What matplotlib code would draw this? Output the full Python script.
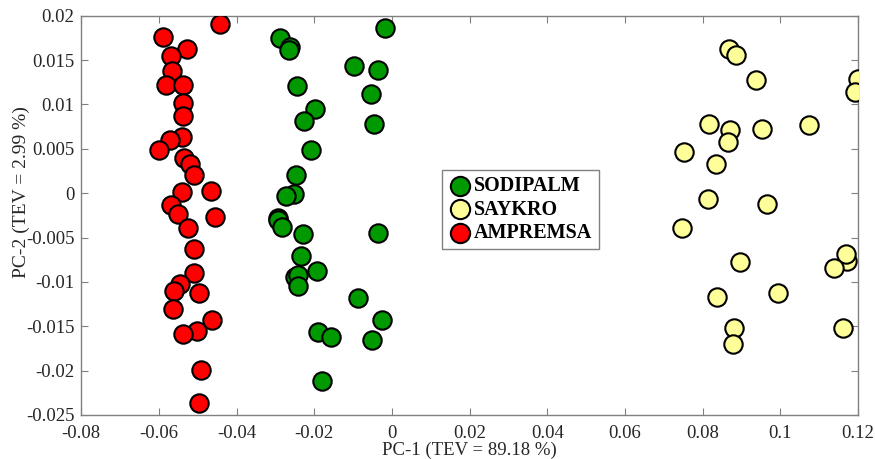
import matplotlib.pyplot as plt

# PCA scores
sodipalm_x = [-0.0018, -0.0288, -0.0262, -0.0265, -0.0097, -0.0037, -0.0244, -0.0055,
              -0.0198, -0.0226, -0.0046, -0.0208, -0.0247, -0.0251, -0.0273, -0.0294,
              -0.0294, -0.0282, -0.0228, -0.0037, -0.0235, -0.0194, -0.0250, -0.0243,
              -0.0241, -0.0087, -0.0026, -0.0190, -0.0157, -0.0051, -0.0179]
sodipalm_y = [0.0186, 0.0175, 0.0165, 0.0161, 0.0143, 0.0139, 0.0121, 0.0112,
              0.0095, 0.0081, 0.0078, 0.0049, 0.0020, -0.0001, -0.0003, -0.0028,
              -0.0030, -0.0038, -0.0046, -0.0045, -0.0071, -0.0088, -0.0094, -0.0092,
              -0.0105, -0.0118, -0.0143, -0.0157, -0.0162, -0.0166, -0.0212]

saykro_x = [0.0869, 0.0886, 0.0937, 0.1201, 0.1193, 0.0817, 0.0871, 0.0866,
            0.0954, 0.1075, 0.0752, 0.0835, 0.0815, 0.0965, 0.0748, 0.0896,
            0.1171, 0.1169, 0.1139, 0.0836, 0.0993, 0.0882, 0.1162, 0.0878]
saykro_y = [0.0162, 0.0156, 0.0128, 0.0129, 0.0114, 0.0078, 0.0071, 0.0058,
            0.0072, 0.0077, 0.0046, 0.0033, -0.0007, -0.0012, -0.0039, -0.0078,
            -0.0076, -0.0069, -0.0084, -0.0117, -0.0112, -0.0152, -0.0152, -0.0170]

ampremsa_x = [-0.0442, -0.0589, -0.0528, -0.0569, -0.0566, -0.0581, -0.0539, -0.0539,
              -0.0539, -0.0541, -0.0571, -0.0601, -0.0536, -0.0519, -0.0511, -0.0541,
              -0.0467, -0.0569, -0.0552, -0.0455, -0.0526, -0.0511, -0.0511, -0.0545,
              -0.0560, -0.0496, -0.0565, -0.0463, -0.0502, -0.0539, -0.0492, -0.0496]
ampremsa_y = [0.0191, 0.0176, 0.0162, 0.0155, 0.0138, 0.0122, 0.0122, 0.0102,
              0.0087, 0.0063, 0.0060, 0.0049, 0.0040, 0.0033, 0.0020, 0.0001,
              0.0002, -0.0013, -0.0023, -0.0027, -0.0039, -0.0063, -0.0090, -0.0102,
              -0.0110, -0.0112, -0.0131, -0.0143, -0.0155, -0.0159, -0.0199, -0.0237]

x_ticks = [-0.08, -0.06, -0.04, -0.02, 0, 0.02, 0.04, 0.06, 0.08, 0.1, 0.12]
x_tick_labels = ['-0.08', '-0.06', '-0.04', '-0.02', '0', '0.02', '0.04', '0.06', '0.08', '0.1', '0.12']
y_ticks = [-0.025, -0.02, -0.015, -0.01, -0.005, 0, 0.005, 0.01, 0.015, 0.02]
y_tick_labels = ['-0.025', '-0.02', '-0.015', '-0.01', '-0.005', '0', '0.005', '0.01', '0.015', '0.02']

plt.rcParams['font.family'] = ['Liberation Serif', 'DejaVu Serif']

fig = plt.figure(figsize=(8.75, 4.59), dpi=100)
ax = fig.add_axes([0.0929, 0.0959, 0.8876, 0.8699])

marker_size = 175
ax.scatter(sodipalm_x, sodipalm_y, s=marker_size, c='#009900', edgecolors='black',
           linewidths=1.5, label='SODIPALM', zorder=3)
ax.scatter(saykro_x, saykro_y, s=marker_size, c='#FFFF99', edgecolors='black',
           linewidths=1.5, label='SAYKRO', zorder=3)
ax.scatter(ampremsa_x, ampremsa_y, s=marker_size, c='#FF0000', edgecolors='black',
           linewidths=1.5, label='AMPREMSA', zorder=3)

ax.set_xlim(-0.08, 0.12)
ax.set_ylim(-0.025, 0.02)
ax.set_xticks(x_ticks)
ax.set_xticklabels(x_tick_labels)
ax.set_yticks(y_ticks)
ax.set_yticklabels(y_tick_labels)

ax.tick_params(direction='in', top=True, right=True, length=5, color='#808080',
               labelsize=13.5, labelcolor='#262626')
ax.tick_params(axis='x', pad=7)
ax.tick_params(axis='y', pad=5)
for spine in ax.spines.values():
    spine.set_color('#808080')
    spine.set_linewidth(1.0)

ax.set_xlabel('PC-1 (TEV = 89.18 %)', fontsize=13.5, color='#262626', labelpad=0)
ax.set_ylabel('PC-2 (TEV = 2.99 %)', fontsize=14, color='#262626')
ax.yaxis.set_label_coords(-0.066, 0.558)

leg = ax.legend(loc='upper left', bbox_to_anchor=(0.4645, 0.6136), borderaxespad=0,
                fancybox=False, edgecolor='#808080', framealpha=1, borderpad=0.3,
                handletextpad=0.1, labelspacing=0.18, handlelength=1.2, markerscale=1.05,
                prop={'weight': 'bold', 'size': 14.5})
leg.get_frame().set_linewidth(1.0)

fig.savefig('out.png', dpi=100)
